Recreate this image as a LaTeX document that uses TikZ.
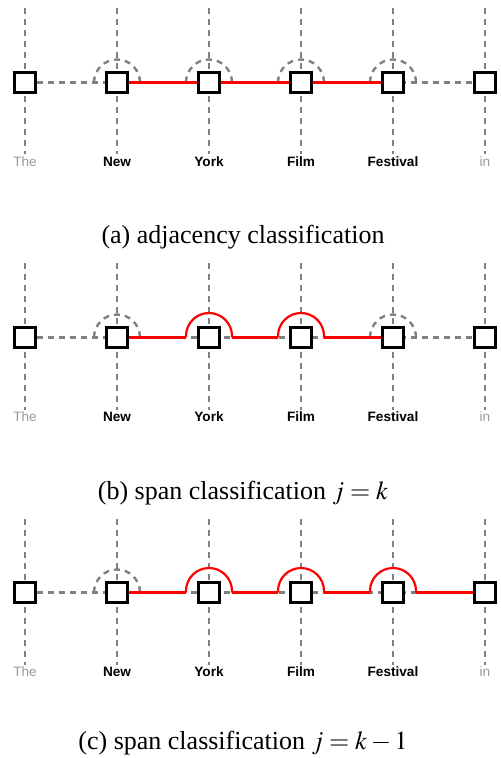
\documentclass[tikz,border=0pt]{standalone}
\usepackage{mathptmx}
\usepackage{fontspec}
\setmainfont{Liberation Serif}
\newfontfamily\labelfont{Liberation Sans}
\usetikzlibrary{calc}
\pgfdeclarelayer{bg}
\pgfsetlayers{bg,main}
\definecolor{lgray}{HTML}{999999}
\definecolor{dgray}{HTML}{808080}
\begin{document}
\begin{tikzpicture}[x=0.5pt,y=-0.5pt,
  gline/.style={draw=dgray, line width=1.2pt, dash pattern=on 3pt off 2.5pt},
  rline/.style={draw=red, line width=1.1pt},
  wbox/.style={draw=black, fill=white, line width=1.35pt, minimum size=10.3pt, inner sep=0pt},
  wlab/.style={font=\labelfont\bfseries\fontsize{6.8}{8}\selectfont, text=black},
  glab/.style={font=\labelfont\fontsize{6.8}{8}\selectfont, text=lgray},
  captext/.style={font=\fontsize{13}{15}\selectfont}]
\useasboundingbox (0,0) rectangle (500,758);
\foreach \p/\yc in {a/82.5,b/337.5,c/592.5}{
  \foreach \i/\x/\w/\st in {1/25/The/glab,2/117/New/wlab,3/209/York/wlab,4/301/Film/wlab,5/393/Festival/wlab,6/485/in/glab}{
    \node[wbox] (\p\i) at (\x,\yc) {};
    \node[\st, anchor=base] (\p\i w) at (\x,\yc+84) {\w};
    \coordinate (\p\i t) at (\x,\yc-74);
    \coordinate (\p\i b) at (\x,\yc+72);
    \coordinate (\p\i l) at (\x-23,\yc);
    \coordinate (\p\i r) at (\x+23,\yc);
    \begin{pgfonlayer}{bg}
      \draw[gline] (\p\i t) -- (\p\i b);
    \end{pgfonlayer}
  }
  \begin{pgfonlayer}{bg}
    \draw[gline] (\p1.east) -- (\p6.west);
  \end{pgfonlayer}
}
\begin{pgfonlayer}{bg}
  % panel a
  \foreach \n in {a2,a3,a4,a5}{\draw[gline] (\n l) arc (180:360:23);}
  \draw[rline] (a2.east) -- (a3.west);
  \draw[rline] (a3.east) -- (a4.west);
  \draw[rline] (a4.east) -- (a5.west);
  % panel b
  \foreach \n in {b2,b5}{\draw[gline] (\n l) arc (180:360:23);}
  \foreach \n in {b3,b4}{\draw[rline] (\n l) -- ++(0,-1.5) arc (180:360:23) -- (\n r);}
  \draw[rline] (b2.east) -- (b3l);
  \draw[rline] (b3r) -- (b4l);
  \draw[rline] (b4r) -- (b5.west);
  % panel c
  \draw[gline] (c2l) arc (180:360:23);
  \foreach \n in {c3,c4,c5}{\draw[rline] (\n l) -- ++(0,-1.5) arc (180:360:23) -- (\n r);}
  \draw[rline] (c2.east) -- (c3l);
  \draw[rline] (c3r) -- (c4l);
  \draw[rline] (c4r) -- (c5l);
  \draw[rline] (c5r) -- (c6.west);
\end{pgfonlayer}
\node[captext, anchor=base] (capa) at (243,244) {(a) adjacency classification};
\node[captext, anchor=base] (capb) at (243,499) {(b) span classification $j=k$};
\node[captext, anchor=base] (capc) at (243,749.5) {(c) span classification $j=k-1$};
\end{tikzpicture}
\end{document}
